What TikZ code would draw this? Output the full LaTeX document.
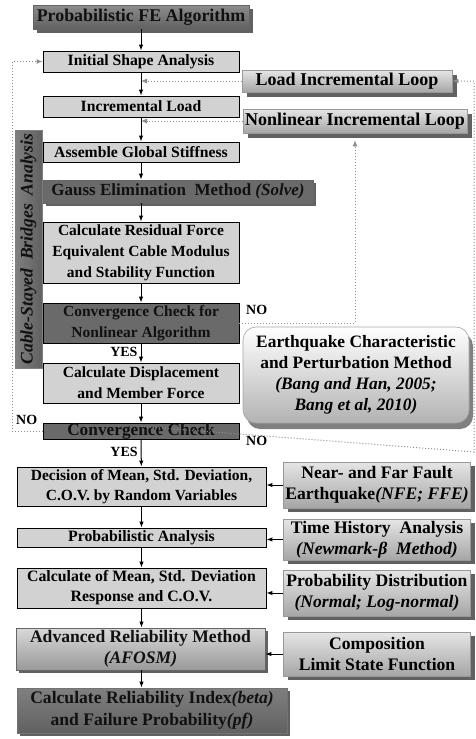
\documentclass[tikz,border=0pt]{standalone}
\usepackage{fontspec}
\setmainfont{Liberation Serif}
\usetikzlibrary{arrows.meta,shadows,calc}
\definecolor{darkbox}{HTML}{6A6A6A}
\definecolor{lightbox}{HTML}{D2D2D2}
\definecolor{dotc}{HTML}{8C8C8C}
\definecolor{ink}{HTML}{111111}
\newcommand\bxf[2]{\bfseries\fontsize{#1}{#2}\selectfont}
\tikzset{
  base/.style={draw=black, line width=0.9pt, align=center, inner sep=0pt,
    font=\bxf{15.7}{18}, text=black},
  lightb/.style={base, fill=lightbox},
  darkb/.style={draw=black, line width=0.9pt, fill=darkbox, inner sep=0pt},
  txt/.style={align=center, inner sep=0pt, text=ink, fill=none, draw=none},
  shad/.style={drop shadow={shadow xshift=#1, shadow yshift=-#1, fill=black!62, opacity=1}},
  sideb/.style={draw=black!40, line width=0.6pt, align=center, inner sep=0pt,
    top color=black!10, bottom color=black!35, shad=4pt,
    font=\bxf{17.6}{21}, text=black},
  loopb/.style={draw=black!40, line width=0.6pt, align=center, inner sep=0pt,
    top color=black!10, bottom color=black!35, shad=5pt,
    font=\bxf{18}{20}, text=black},
  flow/.style={-{Latex[length=6pt,width=4.5pt]}, line width=1pt, black},
  fb/.style={dotc, dotted, line width=1pt, -{Latex[length=6pt,width=5pt]}},
  lab/.style={font=\bxf{14}{16}, inner sep=0pt, text=black}
}
\begin{document}
\begin{tikzpicture}[x=1pt,y=-1pt]
\useasboundingbox (0,0) rectangle (475,739);
% main column
\node[draw=black!60, line width=0.9pt, top color=black!45, bottom color=black!62, shad=4pt, minimum width=216pt, minimum height=24pt] (title) at (141,17) {};
\node[txt, font=\bxf{17.9}{20}] (titlet) at (title) {Probabilistic FE Algorithm};
\node[lightb, minimum width=196pt, minimum height=21pt] (init) at (141,61.5) {Initial Shape Analysis};
\node[lightb, minimum width=196pt, minimum height=21pt] (incl) at (141,106.5) {Incremental Load};
\node[lightb, minimum width=196pt, minimum height=20pt] (asm) at (141,152) {Assemble Global Stiffness};
\node[darkb, draw=black!60, shad=3pt, minimum width=270pt, minimum height=23pt] (gauss) at (178,191.5) {};
\node[txt, font=\bxf{17}{19}] (gausst) at (gauss) {Gauss Elimination\ \ Method \textit{(Solve)}};
\node[lightb, minimum width=196pt, minimum height=61pt, font=\bxf{15.5}{21}] (resid) at (141,252.5)
  {Calculate Residual Force\\Equivalent Cable Modulus\\and Stability Function};
\node[darkb, minimum width=196pt, minimum height=40pt] (conv1) at (141,323) {};
\node[txt, font=\bxf{15.5}{21}] (conv1t) at (conv1) {Convergence Check for\\Nonlinear Algorithm};
\node[lightb, minimum width=196pt, minimum height=40pt, font=\bxf{15.5}{21}] (disp) at (141,383)
  {Calculate Displacement\\and Member Force};
\node[darkb, minimum width=196pt, minimum height=16pt] (conv2) at (141,431) {};
\node[txt, font=\bxf{17.3}{19}] (conv2t) at (conv2) {Convergence Check};
% lower column
\node[lightb, minimum width=249pt, minimum height=39pt, font=\bxf{15.5}{20}] (dec) at (141.5,486.5)
  {Decision of Mean, Std. Deviation,\\C.O.V. by Random Variables};
\node[lightb, minimum width=249pt, minimum height=19pt, font=\bxf{15.8}{18}] (prob) at (141.5,537.5) {Probabilistic Analysis};
\node[lightb, minimum width=249pt, minimum height=40pt, font=\bxf{15.8}{20}] (cmean) at (141.5,588)
  {Calculate of Mean, Std. Deviation\\Response and C.O.V.};
\node[draw=black!60, line width=0.9pt, top color=black!15, bottom color=black!40, shad=3pt, minimum width=249pt, minimum height=42pt] (afosm) at (140.5,649) {};
\node[txt, font=\bxf{17.6}{21}] (afosmt) at (afosm) {Advanced Reliability\ Method\\\textit{(AFOSM)}};
\node[draw=black!55, line width=0.9pt, top color=black!50, bottom color=black!62, shad=3pt, minimum width=270pt, minimum height=45pt] (rel) at (152,710.5) {};
\node[txt, font=\bxf{17.6}{22}] (relt) at (rel) {Calculate Reliability\ Index\textit{(beta)}\\and Failure Probability\textit{(pf)}};
% side bar
\node[draw=black!50, line width=0.6pt, left color=black!50, right color=black!62, rotate=90, minimum width=238pt, minimum height=27pt, inner sep=0pt] (side) at (28.5,249) {};
\node[txt, rotate=90, font=\bxf{17.6}{20}\itshape] (sidet) at (side) {Cable-Stayed\ \ Bridges\ \ Analysis};
% loop boxes
\node[loopb, minimum width=210pt, minimum height=22pt] (lil) at (347,81) {Load Incremental Loop};
\node[loopb, minimum width=224pt, minimum height=24pt] (nil) at (355,121) {Nonlinear Incremental Loop};
% earthquake
\node[draw=black!35, line width=0.6pt, rounded corners=13pt, top color=white, bottom color=black!30,
  drop shadow={shadow xshift=4pt, shadow yshift=-6pt, fill=black!50, opacity=1},
  minimum width=226pt, minimum height=96pt, align=center, inner sep=0pt, text=black,
  font=\bxf{17.4}{21}] (eq) at (356,375)
  {Earthquake Characteristic\\and Perturbation Method\\\textit{(Bang and Han, 2005;}\\\textit{Bang et al, 2010)}};
% right side boxes
\node[sideb, minimum width=187pt, minimum height=46pt] (nff) at (377,485) {Near- and Far Fault\\Earthquake\textit{(NFE; FFE)}};
\node[sideb, minimum width=187pt, minimum height=41pt] (th) at (377,539.5) {Time History\ \ Analysis\\\textit{(Newmark-β\ \ Method)}};
\node[sideb, minimum width=187pt, minimum height=46pt] (pd) at (377,593) {Probability Distribution\\\textit{(Normal; Log-normal)}};
\node[sideb, minimum width=187pt, minimum height=44pt] (comp) at (377,654) {Composition\\Limit State Function};
% main flow
\draw[flow] (title.south) -- (init.north);
\draw[flow] (init) -- (incl);
\draw[flow] (incl) -- (asm);
\draw[flow] (asm.south) -- (asm.south |- gauss.north);
\draw[flow] (asm.south |- gauss.south) -- (resid.north);
\draw[flow] (resid) -- (conv1);
\draw[flow] (conv1) -- node[lab, left=3pt, pos=0.45] {YES} (disp);
\draw[flow] (disp) -- (conv2);
\draw[flow] (conv2) -- node[lab, left=3pt, pos=0.45] {YES} (dec);
\draw[flow] (dec) -- (prob);
\draw[flow] (prob) -- (cmean);
\draw[flow] (cmean.south) -- (cmean.south |- afosm.north);
\draw[flow] (cmean.south |- afosm.south) -- (cmean.south |- rel.north);
% right inputs
\draw[flow] (nff.west) -- (nff.west -| dec.east);
\draw[flow] (th.west) -- (th.west -| prob.east);
\draw[flow] (pd.west) -- (pd.west -| cmean.east);
\draw[flow] (comp.west) -- (comp.west -| afosm.east);
% loops
\coordinate (yesp) at ($(conv2.south)+(0,-13)$);
\draw[fb] (lil.west) -- (lil.west -| init.south);
\draw[fb] (nil.west) -- (nil.west -| init.south);
\draw[fb] (conv1.east) -| ([yshift=-7pt]nil.south);
\draw[fb] (yesp) -- (474,452) |- (lil.east);
\draw[fb] (conv2.west) -- (12,431) |- (init.west);
% NO labels
\node[lab, anchor=west] (no1) at (246,310) {NO};
\node[lab, anchor=west] (no2) at (246,441) {NO};
\node[lab, anchor=west] (no3) at (16,420) {NO};
\end{tikzpicture}
\end{document}
